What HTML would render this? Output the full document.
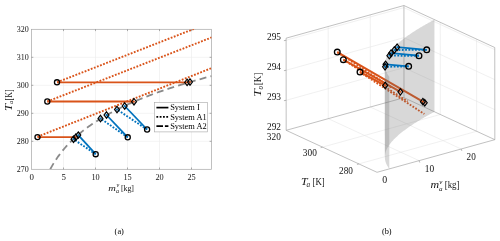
<!DOCTYPE html>
<html><head><meta charset="utf-8"><style>
html,body{margin:0;padding:0;background:#fff;width:500px;height:241px;overflow:hidden;font-family:"Liberation Serif",serif;}
svg{display:block;will-change:transform}
</style></head><body>
<svg width="500" height="241" viewBox="0 0 500 241">
<rect width="500" height="241" fill="#fff"/>
<g><line x1="63.5" y1="29.3" x2="63.5" y2="169.3" stroke="#ebebeb" stroke-width="0.6"/><line x1="95.5" y1="29.3" x2="95.5" y2="169.3" stroke="#ebebeb" stroke-width="0.6"/><line x1="127.5" y1="29.3" x2="127.5" y2="169.3" stroke="#ebebeb" stroke-width="0.6"/><line x1="159.5" y1="29.3" x2="159.5" y2="169.3" stroke="#ebebeb" stroke-width="0.6"/><line x1="191.5" y1="29.3" x2="191.5" y2="169.3" stroke="#ebebeb" stroke-width="0.6"/><line x1="31.5" y1="141.3" x2="211.4" y2="141.3" stroke="#ebebeb" stroke-width="0.6"/><line x1="31.5" y1="113.3" x2="211.4" y2="113.3" stroke="#ebebeb" stroke-width="0.6"/><line x1="31.5" y1="85.3" x2="211.4" y2="85.3" stroke="#ebebeb" stroke-width="0.6"/><line x1="31.5" y1="57.3" x2="211.4" y2="57.3" stroke="#ebebeb" stroke-width="0.6"/><rect x="31.5" y="29.3" width="179.9" height="140" fill="none" stroke="#a6a6a6" stroke-width="0.7"/><line x1="63.5" y1="169.3" x2="63.5" y2="167.5" stroke="#777" stroke-width="0.6"/><line x1="63.5" y1="29.3" x2="63.5" y2="31.1" stroke="#777" stroke-width="0.6"/><line x1="95.5" y1="169.3" x2="95.5" y2="167.5" stroke="#777" stroke-width="0.6"/><line x1="95.5" y1="29.3" x2="95.5" y2="31.1" stroke="#777" stroke-width="0.6"/><line x1="127.5" y1="169.3" x2="127.5" y2="167.5" stroke="#777" stroke-width="0.6"/><line x1="127.5" y1="29.3" x2="127.5" y2="31.1" stroke="#777" stroke-width="0.6"/><line x1="159.5" y1="169.3" x2="159.5" y2="167.5" stroke="#777" stroke-width="0.6"/><line x1="159.5" y1="29.3" x2="159.5" y2="31.1" stroke="#777" stroke-width="0.6"/><line x1="191.5" y1="169.3" x2="191.5" y2="167.5" stroke="#777" stroke-width="0.6"/><line x1="191.5" y1="29.3" x2="191.5" y2="31.1" stroke="#777" stroke-width="0.6"/><line x1="31.5" y1="141.3" x2="33.3" y2="141.3" stroke="#777" stroke-width="0.6"/><line x1="211.4" y1="141.3" x2="209.6" y2="141.3" stroke="#777" stroke-width="0.6"/><line x1="31.5" y1="113.3" x2="33.3" y2="113.3" stroke="#777" stroke-width="0.6"/><line x1="211.4" y1="113.3" x2="209.6" y2="113.3" stroke="#777" stroke-width="0.6"/><line x1="31.5" y1="85.3" x2="33.3" y2="85.3" stroke="#777" stroke-width="0.6"/><line x1="211.4" y1="85.3" x2="209.6" y2="85.3" stroke="#777" stroke-width="0.6"/><line x1="31.5" y1="57.3" x2="33.3" y2="57.3" stroke="#777" stroke-width="0.6"/><line x1="211.4" y1="57.3" x2="209.6" y2="57.3" stroke="#777" stroke-width="0.6"/><text x="16.75" y="172.25" font-size="8.9" textLength="12.0" lengthAdjust="spacingAndGlyphs" font-family="Liberation Serif, serif" fill="#141414">270</text><text x="16.75" y="144.25" font-size="8.9" textLength="12.0" lengthAdjust="spacingAndGlyphs" font-family="Liberation Serif, serif" fill="#141414">280</text><text x="16.75" y="116.25" font-size="8.9" textLength="12.0" lengthAdjust="spacingAndGlyphs" font-family="Liberation Serif, serif" fill="#141414">290</text><text x="16.75" y="88.25" font-size="8.9" textLength="12.0" lengthAdjust="spacingAndGlyphs" font-family="Liberation Serif, serif" fill="#141414">300</text><text x="16.75" y="60.25" font-size="8.9" textLength="12.0" lengthAdjust="spacingAndGlyphs" font-family="Liberation Serif, serif" fill="#141414">310</text><text x="16.75" y="32.25" font-size="8.9" textLength="12.0" lengthAdjust="spacingAndGlyphs" font-family="Liberation Serif, serif" fill="#141414">320</text><text x="31.6" y="179.6" font-size="8.9" text-anchor="middle" font-family="Liberation Serif, serif" fill="#141414">0</text><text x="63.6" y="179.6" font-size="8.9" text-anchor="middle" font-family="Liberation Serif, serif" fill="#141414">5</text><text x="91.4" y="179.6" font-size="8.9" textLength="8.3" lengthAdjust="spacingAndGlyphs" font-family="Liberation Serif, serif" fill="#141414">10</text><text x="123.4" y="179.6" font-size="8.9" textLength="8.3" lengthAdjust="spacingAndGlyphs" font-family="Liberation Serif, serif" fill="#141414">15</text><text x="155.4" y="179.6" font-size="8.9" textLength="8.3" lengthAdjust="spacingAndGlyphs" font-family="Liberation Serif, serif" fill="#141414">20</text><text x="187.4" y="179.6" font-size="8.9" textLength="8.3" lengthAdjust="spacingAndGlyphs" font-family="Liberation Serif, serif" fill="#141414">25</text><clipPath id="cl"><rect x="31.5" y="29.3" width="179.9" height="140"/></clipPath><g clip-path="url(#cl)"><path d="M50.23 169.3L51.83 166.37L53.43 163.63L55.03 161.06L56.63 158.64L58.23 156.35L59.83 154.17L61.43 152.1L63.03 150.12L64.63 148.22L66.23 146.41L67.83 144.66L69.43 142.99L71.03 141.37L72.63 139.81L74.23 138.3L75.83 136.84L77.43 135.42L79.03 134.05L80.63 132.71L82.23 131.42L83.83 130.16L85.43 128.93L87.03 127.73L88.63 126.57L90.23 125.43L91.83 124.32L93.43 123.24L95.03 122.18L96.63 121.14L98.23 120.12L99.83 119.13L101.43 118.16L103.03 117.2L104.63 116.27L106.23 115.35L107.83 114.45L109.43 113.57L111.03 112.7L112.63 111.85L114.23 111.01L115.83 110.18L117.43 109.37L119.03 108.58L120.63 107.79L122.23 107.02L123.83 106.26L125.43 105.51L127.03 104.78L128.63 104.05L130.23 103.33L131.83 102.63L133.43 101.93L135.03 101.25L136.63 100.57L138.23 99.9L139.83 99.24L141.43 98.59L143.03 97.95L144.63 97.32L146.23 96.69L147.83 96.08L149.43 95.46L151.03 94.86L152.63 94.27L154.23 93.68L155.83 93.09L157.43 92.52L159.03 91.95L160.63 91.39L162.23 90.83L163.83 90.28L165.43 89.73L167.03 89.19L168.63 88.66L170.23 88.13L171.83 87.61L173.43 87.09L175.03 86.58L176.63 86.07L178.23 85.57L179.83 85.07L181.43 84.58L183.03 84.09L184.63 83.61L186.23 83.13L187.83 82.66L189.43 82.19L191.03 81.72L192.63 81.26L194.23 80.8L195.83 80.35L197.43 79.9L199.03 79.45L200.63 79.01L202.23 78.57L203.83 78.14L205.43 77.71L207.03 77.28L208.63 76.86L210.23 76.44L211.83 76.02" fill="none" stroke="#8a8a8a" stroke-width="1.8" stroke-dasharray="7 4.2" stroke-linecap="butt"/><path d="M57 82.3L187.1 82.3" fill="none" stroke="#D95319" stroke-width="1.8" stroke-linecap="butt"/><path d="M57 82.3L257 4.34" fill="none" stroke="#D95319" stroke-width="1.9" stroke-dasharray="1.8 1.5" stroke-linecap="butt"/><path d="M47.3 101.5L134 101.5" fill="none" stroke="#D95319" stroke-width="1.8" stroke-linecap="butt"/><path d="M47.3 101.5L247.3 23.54" fill="none" stroke="#D95319" stroke-width="1.9" stroke-dasharray="1.8 1.5" stroke-linecap="butt"/><path d="M37.5 137.1L75.8 137.1" fill="none" stroke="#D95319" stroke-width="1.8" stroke-linecap="butt"/><path d="M37.5 136.7L237.5 57.9" fill="none" stroke="#D95319" stroke-width="1.9" stroke-dasharray="1.8 1.5" stroke-linecap="butt"/><path d="M95.7 154.2L78.3 135.1" fill="none" stroke="#0072BD" stroke-width="1.8" stroke-linecap="butt"/><path d="M95.7 154.2L73.5 139.2" fill="none" stroke="#0072BD" stroke-width="1.9" stroke-dasharray="1.8 1.5" stroke-linecap="butt"/><path d="M127.75 137.3L106.5 115" fill="none" stroke="#0072BD" stroke-width="1.8" stroke-linecap="butt"/><path d="M127.75 137.3L100.5 118.5" fill="none" stroke="#0072BD" stroke-width="1.9" stroke-dasharray="1.8 1.5" stroke-linecap="butt"/><path d="M147.1 129.5L124.7 106" fill="none" stroke="#0072BD" stroke-width="1.8" stroke-linecap="butt"/><path d="M147.1 129.5L117 109.5" fill="none" stroke="#0072BD" stroke-width="1.9" stroke-dasharray="1.8 1.5" stroke-linecap="butt"/></g><circle cx="57" cy="82.3" r="2.55" fill="none" stroke="#000" stroke-width="1.3"/><circle cx="47.3" cy="101.5" r="2.55" fill="none" stroke="#000" stroke-width="1.3"/><circle cx="37.5" cy="137.1" r="2.55" fill="none" stroke="#000" stroke-width="1.3"/><circle cx="95.7" cy="154.2" r="2.55" fill="none" stroke="#000" stroke-width="1.3"/><circle cx="127.75" cy="137.3" r="2.55" fill="none" stroke="#000" stroke-width="1.3"/><circle cx="147.1" cy="129.5" r="2.55" fill="none" stroke="#000" stroke-width="1.3"/><circle cx="187.1" cy="82.4" r="0.95" fill="#D95319"/><path d="M187.1 79.2L189.55 82.4L187.1 85.6L184.65 82.4Z" fill="none" stroke="#000" stroke-width="1.2" stroke-linejoin="miter"/><circle cx="134" cy="101.7" r="0.95" fill="#D95319"/><path d="M134 98.5L136.45 101.7L134 104.9L131.55 101.7Z" fill="none" stroke="#000" stroke-width="1.2" stroke-linejoin="miter"/><circle cx="75.8" cy="137.2" r="0.95" fill="#D95319"/><path d="M75.8 134L78.25 137.2L75.8 140.4L73.35 137.2Z" fill="none" stroke="#000" stroke-width="1.2" stroke-linejoin="miter"/><circle cx="190" cy="82" r="0.95" fill="#D95319"/><path d="M190 78.8L192.45 82L190 85.2L187.55 82Z" fill="none" stroke="#000" stroke-width="1.2" stroke-linejoin="miter"/><circle cx="78.3" cy="135.1" r="0.95" fill="#0072BD"/><path d="M78.3 131.9L80.75 135.1L78.3 138.3L75.85 135.1Z" fill="none" stroke="#000" stroke-width="1.2" stroke-linejoin="miter"/><circle cx="106.5" cy="115" r="0.95" fill="#0072BD"/><path d="M106.5 111.8L108.95 115L106.5 118.2L104.05 115Z" fill="none" stroke="#000" stroke-width="1.2" stroke-linejoin="miter"/><circle cx="124.7" cy="106" r="0.95" fill="#0072BD"/><path d="M124.7 102.8L127.15 106L124.7 109.2L122.25 106Z" fill="none" stroke="#000" stroke-width="1.2" stroke-linejoin="miter"/><circle cx="73.5" cy="139.2" r="0.95" fill="#0072BD"/><path d="M73.5 136L75.95 139.2L73.5 142.4L71.05 139.2Z" fill="none" stroke="#000" stroke-width="1.2" stroke-linejoin="miter"/><circle cx="100.5" cy="118.5" r="0.95" fill="#0072BD"/><path d="M100.5 115.3L102.95 118.5L100.5 121.7L98.05 118.5Z" fill="none" stroke="#000" stroke-width="1.2" stroke-linejoin="miter"/><circle cx="117" cy="109.5" r="0.95" fill="#0072BD"/><path d="M117 106.3L119.45 109.5L117 112.7L114.55 109.5Z" fill="none" stroke="#000" stroke-width="1.2" stroke-linejoin="miter"/><rect x="154.5" y="102.5" width="52.8" height="29.4" fill="#fff" stroke="#a6a6a6" stroke-width="0.6"/><path d="M156.4 107.6L168.4 107.6" fill="none" stroke="#000" stroke-width="1.7" stroke-linecap="butt"/><text x="170.2" y="110.4" font-size="8.4" font-family="Liberation Serif, serif" fill="#000">System I</text><path d="M156.4 116.9L168.4 116.9" fill="none" stroke="#000" stroke-width="1.7" stroke-dasharray="1.8 1.5" stroke-linecap="butt"/><text x="170.2" y="119.7" font-size="8.4" font-family="Liberation Serif, serif" fill="#000">System A1</text><path d="M156.4 126.2L168.4 126.2" fill="none" stroke="#000" stroke-width="1.7" stroke-dasharray="6.6 1.9" stroke-linecap="butt"/><text x="170.2" y="129" font-size="8.4" font-family="Liberation Serif, serif" fill="#000">System A2</text><text x="108.2" y="190.6" font-size="9.2" font-style="italic" textLength="7.6" lengthAdjust="spacingAndGlyphs" font-family="Liberation Serif, serif" fill="#141414">m</text><text x="116.4" y="187" font-size="6.2" font-style="italic" font-family="Liberation Serif, serif" fill="#141414">v</text><text x="115.9" y="192.6" font-size="6.2" font-style="italic" font-family="Liberation Serif, serif" fill="#141414">a</text><text x="120.9" y="190.6" font-size="9.2" textLength="13.1" lengthAdjust="spacingAndGlyphs" font-family="Liberation Serif, serif" fill="#141414">[kg]</text><g transform="translate(11.6 111) rotate(-90)"><text x="0" y="0" font-size="9.6" font-style="italic" textLength="7.2" lengthAdjust="spacingAndGlyphs" font-family="Liberation Serif, serif" fill="#141414">T</text><text x="6.9" y="1.2" font-size="6.2" font-style="italic" font-family="Liberation Serif, serif" fill="#141414">a</text><text x="10.6" y="0" font-size="9.6" textLength="11.0" lengthAdjust="spacingAndGlyphs" font-family="Liberation Serif, serif" fill="#141414">[K]</text></g></g><g><line x1="286.15" y1="100.3" x2="403.97" y2="67.67" stroke="#e6e6e6" stroke-width="0.6"/><line x1="403.97" y1="67.67" x2="494.8" y2="109.65" stroke="#e6e6e6" stroke-width="0.6"/><line x1="286.13" y1="70.28" x2="403.95" y2="37.65" stroke="#e6e6e6" stroke-width="0.6"/><line x1="403.95" y1="37.65" x2="494.78" y2="79.63" stroke="#e6e6e6" stroke-width="0.6"/><line x1="286.11" y1="40.26" x2="403.93" y2="7.63" stroke="#e6e6e6" stroke-width="0.6"/><line x1="403.93" y1="7.63" x2="494.76" y2="49.61" stroke="#e6e6e6" stroke-width="0.6"/><line x1="328.25" y1="118.67" x2="328.19" y2="26.51" stroke="#e6e6e6" stroke-width="0.6"/><line x1="328.25" y1="118.67" x2="419.09" y2="160.66" stroke="#e6e6e6" stroke-width="0.6"/><line x1="370.33" y1="107.01" x2="370.26" y2="14.85" stroke="#e6e6e6" stroke-width="0.6"/><line x1="370.33" y1="107.01" x2="461.16" y2="149" stroke="#e6e6e6" stroke-width="0.6"/><line x1="476.66" y1="131.28" x2="476.6" y2="39.11" stroke="#e6e6e6" stroke-width="0.6"/><line x1="358.85" y1="163.91" x2="476.66" y2="131.28" stroke="#e6e6e6" stroke-width="0.6"/><line x1="440.32" y1="114.48" x2="440.26" y2="22.32" stroke="#e6e6e6" stroke-width="0.6"/><line x1="322.51" y1="147.12" x2="440.32" y2="114.48" stroke="#e6e6e6" stroke-width="0.6"/><line x1="286.18" y1="130.32" x2="286.11" y2="38.16" stroke="#a6a6a6" stroke-width="0.7"/><line x1="286.11" y1="38.16" x2="403.93" y2="5.52" stroke="#a6a6a6" stroke-width="0.7"/><line x1="403.93" y1="5.52" x2="494.76" y2="47.51" stroke="#a6a6a6" stroke-width="0.7"/><line x1="494.76" y1="47.51" x2="494.83" y2="139.68" stroke="#a6a6a6" stroke-width="0.7"/><line x1="494.83" y1="139.68" x2="377.01" y2="172.31" stroke="#a6a6a6" stroke-width="0.7"/><line x1="377.01" y1="172.31" x2="286.18" y2="130.32" stroke="#a6a6a6" stroke-width="0.7"/><line x1="286.18" y1="130.32" x2="403.99" y2="97.69" stroke="#a6a6a6" stroke-width="0.7"/><line x1="403.99" y1="97.69" x2="494.83" y2="139.68" stroke="#a6a6a6" stroke-width="0.7"/><line x1="403.99" y1="97.69" x2="403.93" y2="5.52" stroke="#a6a6a6" stroke-width="0.7"/><line x1="286.15" y1="100.3" x2="283.95" y2="100.7" stroke="#8c8c8c" stroke-width="0.6"/><line x1="286.13" y1="70.28" x2="283.93" y2="70.68" stroke="#8c8c8c" stroke-width="0.6"/><line x1="286.11" y1="40.26" x2="283.91" y2="40.66" stroke="#8c8c8c" stroke-width="0.6"/><line x1="358.85" y1="163.91" x2="356.95" y2="164.47" stroke="#8c8c8c" stroke-width="0.6"/><line x1="322.51" y1="147.12" x2="320.61" y2="147.67" stroke="#8c8c8c" stroke-width="0.6"/><line x1="419.09" y1="160.66" x2="419.79" y2="162.56" stroke="#8c8c8c" stroke-width="0.6"/><line x1="461.16" y1="149" x2="461.86" y2="150.9" stroke="#8c8c8c" stroke-width="0.6"/><text x="267" y="40" font-size="9.9" textLength="14.0" lengthAdjust="spacingAndGlyphs" font-family="Liberation Serif, serif" fill="#141414">295</text><text x="267" y="69.95" font-size="9.9" textLength="14.0" lengthAdjust="spacingAndGlyphs" font-family="Liberation Serif, serif" fill="#141414">294</text><text x="267" y="99.9" font-size="9.9" textLength="14.0" lengthAdjust="spacingAndGlyphs" font-family="Liberation Serif, serif" fill="#141414">293</text><text x="267" y="129.8" font-size="9.9" textLength="14.0" lengthAdjust="spacingAndGlyphs" font-family="Liberation Serif, serif" fill="#141414">292</text><text x="266.8" y="140.2" font-size="9.9" textLength="14.0" lengthAdjust="spacingAndGlyphs" font-family="Liberation Serif, serif" fill="#141414">320</text><text x="302.8" y="156.2" font-size="9.9" textLength="14.0" lengthAdjust="spacingAndGlyphs" font-family="Liberation Serif, serif" fill="#141414">300</text><text x="339" y="173.8" font-size="9.9" textLength="13.9" lengthAdjust="spacingAndGlyphs" font-family="Liberation Serif, serif" fill="#141414">280</text><text x="384.65" y="183.2" font-size="9.9" text-anchor="middle" font-family="Liberation Serif, serif" fill="#141414">0</text><text x="424.8" y="171.8" font-size="9.9" textLength="9.4" lengthAdjust="spacingAndGlyphs" font-family="Liberation Serif, serif" fill="#141414">10</text><text x="466.6" y="160.4" font-size="9.9" textLength="9.2" lengthAdjust="spacingAndGlyphs" font-family="Liberation Serif, serif" fill="#141414">20</text><text x="301" y="185.2" font-size="10.8" font-style="italic" textLength="6.6" lengthAdjust="spacingAndGlyphs" font-family="Liberation Serif, serif" fill="#141414">T</text><text x="306.6" y="186.9" font-size="7.2" font-style="italic" font-family="Liberation Serif, serif" fill="#141414">a</text><text x="312.5" y="185.2" font-size="10.8" textLength="12.1" lengthAdjust="spacingAndGlyphs" font-family="Liberation Serif, serif" fill="#141414">[K]</text><text x="430.5" y="187.9" font-size="10.4" font-style="italic" textLength="8.6" lengthAdjust="spacingAndGlyphs" font-family="Liberation Serif, serif" fill="#141414">m</text><text x="439.3" y="183.5" font-size="7.0" font-style="italic" font-family="Liberation Serif, serif" fill="#141414">v</text><text x="439" y="190.6" font-size="7.0" font-style="italic" font-family="Liberation Serif, serif" fill="#141414">a</text><text x="444.7" y="187.9" font-size="10.4" textLength="14.8" lengthAdjust="spacingAndGlyphs" font-family="Liberation Serif, serif" fill="#141414">[kg]</text><g transform="translate(261.2 96.8) rotate(-90)"><text x="0" y="0" font-size="10.8" font-style="italic" textLength="7.6" lengthAdjust="spacingAndGlyphs" font-family="Liberation Serif, serif" fill="#141414">T</text><text x="7.4" y="1.8" font-size="7.2" font-style="italic" font-family="Liberation Serif, serif" fill="#141414">o</text><text x="11.6" y="0" font-size="10.8" textLength="12.6" lengthAdjust="spacingAndGlyphs" font-family="Liberation Serif, serif" fill="#141414">[K]</text></g><path d="M337.27 52.12L422.85 101.65" fill="none" stroke="#D95319" stroke-width="2.0" stroke-linecap="butt"/><path d="M337.27 52.12L392.32 87.99" fill="none" stroke="#D95319" stroke-width="1.9" stroke-dasharray="1.8 1.5" stroke-linecap="butt"/><path d="M343.35 59.64L400.38 91.84" fill="none" stroke="#D95319" stroke-width="2.0" stroke-linecap="butt"/><path d="M343.35 59.64L407.7 101.57" fill="none" stroke="#D95319" stroke-width="1.9" stroke-dasharray="1.8 1.5" stroke-linecap="butt"/><path d="M360 72.1L385.2 85.39" fill="none" stroke="#D95319" stroke-width="2.0" stroke-linecap="butt"/><path d="M360 72.1L424.35 114.04" fill="none" stroke="#D95319" stroke-width="1.9" stroke-dasharray="1.8 1.5" stroke-linecap="butt"/><path d="M389.26 76.74L388.82 76.14L388.41 75.56L388.03 74.99L387.68 74.44L387.36 73.9L387.06 73.37L386.79 72.85L386.54 72.34L386.31 71.85L386.1 71.36L385.91 70.88L385.74 70.41L385.59 69.95L385.45 69.49L385.33 69.04L385.22 68.6L385.12 68.16L385.04 67.73L384.98 67.31L384.92 66.89L384.88 66.48L384.84 66.07L384.82 65.67L384.81 65.28L384.81 64.88L384.87 157.04L384.87 157.44L384.88 157.83L384.91 158.24L384.94 158.64L384.98 159.06L385.04 159.47L385.11 159.9L385.19 160.33L385.28 160.76L385.39 161.2L385.51 161.65L385.65 162.11L385.8 162.57L385.97 163.04L386.16 163.52L386.37 164.01L386.6 164.51L386.85 165.01L387.12 165.53L387.42 166.06L387.74 166.6L388.09 167.16L388.47 167.72L388.88 168.3L389.32 168.9Z" fill="#6e6e6e" fill-opacity="0.27" stroke="none"/><path d="M384.81 64.88L384.82 64.49L384.83 64.11L384.86 63.73L384.89 63.35L384.93 62.98L384.99 62.61L385.04 62.25L385.11 61.89L385.18 61.53L385.26 61.17L385.35 60.82L385.44 60.47L385.54 60.13L385.64 59.78L385.76 59.44L385.87 59.1L386 58.77L386.12 58.44L386.26 58.11L386.4 57.78L386.54 57.45L386.69 57.13L386.84 56.81L387 56.49L387.16 56.17L387.33 55.86L387.5 55.54L387.67 55.23L387.85 54.92L388.04 54.62L388.22 54.31L388.41 54.01L388.61 53.71L388.81 53.41L389.01 53.11L389.21 52.81L389.42 52.51L389.63 52.22L389.85 51.93L390.07 51.64L390.29 51.35L390.51 51.06L390.74 50.77L390.97 50.49L391.2 50.2L391.44 49.92L391.68 49.64L391.92 49.36L392.16 49.08L392.41 48.8L392.66 48.52L392.91 48.25L393.16 47.97L393.42 47.7L393.68 47.43L393.94 47.16L394.2 46.89L394.47 46.62L394.74 46.35L395.01 46.08L395.28 45.82L395.55 45.55L395.83 45.29L396.11 45.02L396.39 44.76L396.67 44.5L396.95 44.24L397.24 43.98L397.53 43.72L397.82 43.46L398.11 43.2L398.4 42.95L398.7 42.69L398.99 42.44L399.29 42.18L399.59 41.93L399.89 41.68L400.2 41.43L400.5 41.18L400.81 40.92L401.12 40.68L401.43 40.43L401.74 40.18L402.05 39.93L402.36 39.68L402.68 39.44L402.99 39.19L403.31 38.95L403.63 38.7L403.95 38.46L404.28 38.22L404.6 37.97L404.92 37.73L405.25 37.49L405.58 37.25L405.91 37.01L406.24 36.77L406.57 36.53L406.9 36.29L407.23 36.06L407.57 35.82L407.9 35.58L408.24 35.35L408.58 35.11L408.92 34.88L409.26 34.64L409.6 34.41L409.94 34.17L410.29 33.94L410.63 33.71L410.98 33.47L411.32 33.24L411.67 33.01L412.02 32.78L412.37 32.55L412.72 32.32L413.07 32.09L413.42 31.86L413.78 31.63L414.13 31.41L414.49 31.18L414.84 30.95L415.2 30.72L415.56 30.5L415.92 30.27L416.28 30.05L416.64 29.82L417 29.6L417.36 29.37L417.73 29.15L418.09 28.92L418.45 28.7L418.82 28.48L419.19 28.26L419.55 28.03L419.92 27.81L420.29 27.59L420.66 27.37L421.03 27.15L421.4 26.93L421.77 26.71L422.15 26.49L422.52 26.27L422.89 26.05L423.27 25.83L423.65 25.61L424.02 25.4L424.4 25.18L424.78 24.96L425.15 24.74L425.53 24.53L425.91 24.31L426.29 24.09L426.68 23.88L427.06 23.66L427.44 23.45L427.82 23.23L428.21 23.02L428.59 22.8L428.98 22.59L429.36 22.38L429.75 22.16L430.13 21.95L430.52 21.74L430.91 21.53L431.3 21.31L431.69 21.1L432.08 20.89L432.47 20.68L432.86 20.47L433.25 20.26L433.64 20.04L434.03 19.83L434.43 19.62L434.49 111.79L434.1 112L433.7 112.21L433.31 112.42L432.92 112.63L432.53 112.84L432.14 113.05L431.75 113.26L431.36 113.48L430.97 113.69L430.58 113.9L430.2 114.11L429.81 114.33L429.42 114.54L429.04 114.75L428.65 114.97L428.27 115.18L427.89 115.4L427.5 115.61L427.12 115.83L426.74 116.04L426.36 116.26L425.98 116.47L425.6 116.69L425.22 116.91L424.84 117.12L424.46 117.34L424.08 117.56L423.71 117.78L423.33 117.99L422.96 118.21L422.58 118.43L422.21 118.65L421.84 118.87L421.46 119.09L421.09 119.31L420.72 119.53L420.35 119.75L419.98 119.97L419.62 120.2L419.25 120.42L418.88 120.64L418.52 120.86L418.15 121.09L417.79 121.31L417.42 121.53L417.06 121.76L416.7 121.98L416.34 122.21L415.98 122.43L415.62 122.66L415.26 122.89L414.91 123.11L414.55 123.34L414.19 123.57L413.84 123.8L413.49 124.03L413.13 124.25L412.78 124.48L412.43 124.71L412.08 124.94L411.73 125.17L411.38 125.41L411.04 125.64L410.69 125.87L410.35 126.1L410 126.34L409.66 126.57L409.32 126.8L408.98 127.04L408.64 127.27L408.3 127.51L407.97 127.74L407.63 127.98L407.3 128.22L406.96 128.46L406.63 128.69L406.3 128.93L405.97 129.17L405.64 129.41L405.31 129.65L404.99 129.89L404.66 130.14L404.34 130.38L404.02 130.62L403.7 130.87L403.38 131.11L403.06 131.35L402.74 131.6L402.43 131.85L402.11 132.09L401.8 132.34L401.49 132.59L401.18 132.84L400.87 133.09L400.56 133.34L400.26 133.59L399.96 133.84L399.65 134.09L399.35 134.35L399.06 134.6L398.76 134.86L398.47 135.11L398.17 135.37L397.88 135.62L397.59 135.88L397.3 136.14L397.02 136.4L396.73 136.66L396.45 136.92L396.17 137.19L395.89 137.45L395.62 137.71L395.34 137.98L395.07 138.24L394.8 138.51L394.53 138.78L394.27 139.05L394 139.32L393.74 139.59L393.48 139.86L393.23 140.14L392.97 140.41L392.72 140.69L392.47 140.96L392.23 141.24L391.98 141.52L391.74 141.8L391.5 142.08L391.27 142.36L391.03 142.65L390.8 142.93L390.58 143.22L390.35 143.51L390.13 143.8L389.91 144.09L389.7 144.38L389.48 144.68L389.28 144.97L389.07 145.27L388.87 145.57L388.67 145.87L388.48 146.17L388.29 146.47L388.1 146.78L387.92 147.09L387.74 147.4L387.56 147.71L387.39 148.02L387.22 148.33L387.06 148.65L386.9 148.97L386.75 149.29L386.6 149.62L386.46 149.94L386.32 150.27L386.19 150.6L386.06 150.93L385.94 151.27L385.82 151.6L385.71 151.95L385.6 152.29L385.5 152.63L385.41 152.98L385.32 153.34L385.24 153.69L385.17 154.05L385.11 154.41L385.05 154.78L385 155.14L384.95 155.52L384.92 155.89L384.89 156.27L384.88 156.66L384.87 157.04Z" fill="#6e6e6e" fill-opacity="0.27" stroke="none"/><path d="M408.66 66.33L385.53 64.37" fill="none" stroke="#0072BD" stroke-width="1.8" stroke-linecap="butt"/><path d="M408.66 66.33L385.03 66.78" fill="none" stroke="#0072BD" stroke-width="1.9" stroke-dasharray="1.8 1.5" stroke-linecap="butt"/><path d="M418.97 55.72L391.03 53.21" fill="none" stroke="#0072BD" stroke-width="1.8" stroke-linecap="butt"/><path d="M418.97 55.72L389.35 55.65" fill="none" stroke="#0072BD" stroke-width="1.9" stroke-dasharray="1.8 1.5" stroke-linecap="butt"/><path d="M426.73 49.86L397.15 47.19" fill="none" stroke="#0072BD" stroke-width="1.8" stroke-linecap="butt"/><path d="M426.73 49.86L394.36 49.95" fill="none" stroke="#0072BD" stroke-width="1.9" stroke-dasharray="1.8 1.5" stroke-linecap="butt"/><circle cx="337.27" cy="52.12" r="2.85" fill="none" stroke="#000" stroke-width="1.3"/><circle cx="424.76" cy="102.76" r="0.95" fill="#D95319"/><path d="M424.76 99.56L427.21 102.76L424.76 105.96L422.31 102.76Z" fill="none" stroke="#000" stroke-width="1.2" stroke-linejoin="miter"/><circle cx="422.85" cy="101.65" r="0.95" fill="#D95319"/><path d="M422.85 98.45L425.3 101.65L422.85 104.85L420.4 101.65Z" fill="none" stroke="#000" stroke-width="1.2" stroke-linejoin="miter"/><circle cx="343.35" cy="59.64" r="2.85" fill="none" stroke="#000" stroke-width="1.3"/><circle cx="400.38" cy="91.84" r="0.95" fill="#D95319"/><path d="M400.38 88.64L402.83 91.84L400.38 95.04L397.93 91.84Z" fill="none" stroke="#000" stroke-width="1.2" stroke-linejoin="miter"/><circle cx="360" cy="72.1" r="2.85" fill="none" stroke="#000" stroke-width="1.3"/><circle cx="385.2" cy="85.39" r="0.95" fill="#D95319"/><path d="M385.2 82.19L387.65 85.39L385.2 88.59L382.75 85.39Z" fill="none" stroke="#000" stroke-width="1.2" stroke-linejoin="miter"/><circle cx="408.66" cy="66.33" r="2.85" fill="none" stroke="#000" stroke-width="1.3"/><circle cx="385.53" cy="64.37" r="0.95" fill="#0072BD"/><path d="M385.53 61.17L387.98 64.37L385.53 67.57L383.08 64.37Z" fill="none" stroke="#000" stroke-width="1.2" stroke-linejoin="miter"/><circle cx="385.03" cy="66.78" r="0.95" fill="#0072BD"/><path d="M385.03 63.58L387.48 66.78L385.03 69.98L382.58 66.78Z" fill="none" stroke="#000" stroke-width="1.2" stroke-linejoin="miter"/><circle cx="418.97" cy="55.72" r="2.85" fill="none" stroke="#000" stroke-width="1.3"/><circle cx="391.03" cy="53.21" r="0.95" fill="#0072BD"/><path d="M391.03 50.01L393.48 53.21L391.03 56.41L388.58 53.21Z" fill="none" stroke="#000" stroke-width="1.2" stroke-linejoin="miter"/><circle cx="389.35" cy="55.65" r="0.95" fill="#0072BD"/><path d="M389.35 52.45L391.8 55.65L389.35 58.85L386.9 55.65Z" fill="none" stroke="#000" stroke-width="1.2" stroke-linejoin="miter"/><circle cx="426.73" cy="49.86" r="2.85" fill="none" stroke="#000" stroke-width="1.3"/><circle cx="397.15" cy="47.19" r="0.95" fill="#0072BD"/><path d="M397.15 43.99L399.6 47.19L397.15 50.39L394.7 47.19Z" fill="none" stroke="#000" stroke-width="1.2" stroke-linejoin="miter"/><circle cx="394.36" cy="49.95" r="0.95" fill="#0072BD"/><path d="M394.36 46.75L396.81 49.95L394.36 53.15L391.91 49.95Z" fill="none" stroke="#000" stroke-width="1.2" stroke-linejoin="miter"/></g>
<text x="114.6" y="233.5" font-size="8.4" textLength="9.3" lengthAdjust="spacingAndGlyphs" font-family="Liberation Serif, serif" fill="#000">(a)</text><text x="381.9" y="233.5" font-size="8.4" textLength="9.7" lengthAdjust="spacingAndGlyphs" font-family="Liberation Serif, serif" fill="#000">(b)</text>
</svg>
</body></html>
